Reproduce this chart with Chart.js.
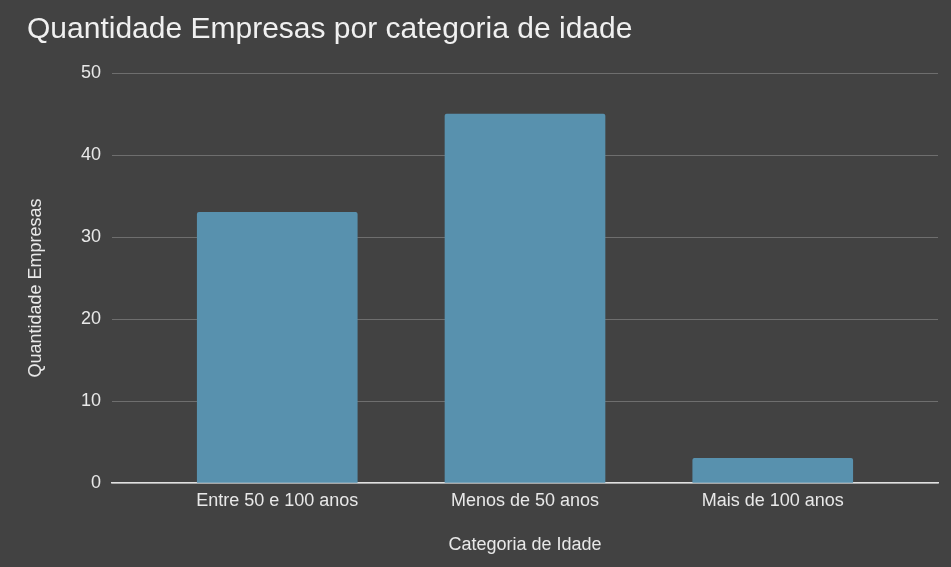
<!DOCTYPE html>
<html>
<head>
<meta charset="utf-8">
<script src="https://cdn.jsdelivr.net/npm/chart.js@4/dist/chart.umd.min.js"></script>
<style>
    html, body { margin: 0; padding: 0; background: #424242; }
    #chart { display: block; }
</style>
</head>
<body>
<canvas id="chart" width="951" height="567"></canvas>
<script>
// Chart data
const categories = ["Entre 50 e 100 anos", "Menos de 50 anos", "Mais de 100 anos"];
const companyCounts = [33, 45, 3];
const yTicks = [0, 10, 20, 30, 40, 50];

const textColor = "#e8e8e8";
const fontFamily = "'Liberation Sans', Arial, sans-serif";

const ctx = document.getElementById("chart").getContext("2d");
new Chart(ctx, {
    type: "bar",
    data: {
        datasets: [{
            label: "Quantidade Empresas",
            data: companyCounts.map((v, i) => ({ x: i, y: v })),
            backgroundColor: "#5891AE",
            borderRadius: { topLeft: 2, topRight: 2 },
            borderSkipped: "bottom",
            barThickness: 160,
        }]
    },
    options: {
        responsive: false,
        animation: false,
        layout: { padding: { left: 27, right: 13, top: 0, bottom: 0 } },
        plugins: {
            legend: { display: false },
            tooltip: { enabled: false },
            title: {
                display: true,
                text: "Quantidade Empresas por categoria de idade",
                align: "start",
                color: "#f0f0f0",
                font: { family: fontFamily, size: 30, weight: "normal" },
                padding: { top: 12, bottom: 25 },
            },
        },
        scales: {
            x: {
                type: "linear",
                offset: false,
                min: -0.667,
                max: 2.667,
                afterBuildTicks: (scale) => {
                    scale.ticks = categories.map((c, i) => ({ value: i }));
                },
                afterFit: (scale) => { scale.height = 84; },
                ticks: {
                    callback: (v) => categories[v],
                    color: textColor,
                    font: { family: fontFamily, size: 18 },
                    padding: 7,
                    maxRotation: 0,
                    autoSkip: false,
                },
                grid: { display: false, drawTicks: false, offset: false },
                border: { display: true, color: "#e0e0e0", width: 1.5 },
                title: {
                    display: true,
                    text: "Categoria de Idade",
                    color: textColor,
                    font: { family: fontFamily, size: 18 },
                    padding: { top: 0, bottom: 11 },
                },
            },
            y: {
                min: 0,
                max: 50,
                afterBuildTicks: (scale) => {
                    scale.ticks = yTicks.map(v => ({ value: v }));
                },
                afterFit: (scale) => { scale.width = 85; },
                ticks: {
                    color: textColor,
                    font: { family: fontFamily, size: 18 },
                    padding: 11,
                },
                grid: { color: "#6e6e6e", lineWidth: 1, drawTicks: false },
                border: { display: false },
                title: {
                    display: true,
                    // trailing spaces nudge the rotated title down a bit
                    text: "Quantidade Empresas    ",
                    color: textColor,
                    font: { family: fontFamily, size: 18 },
                    padding: { top: -2, bottom: 0 },
                },
            },
        },
    },
});
</script>
</body>
</html>
